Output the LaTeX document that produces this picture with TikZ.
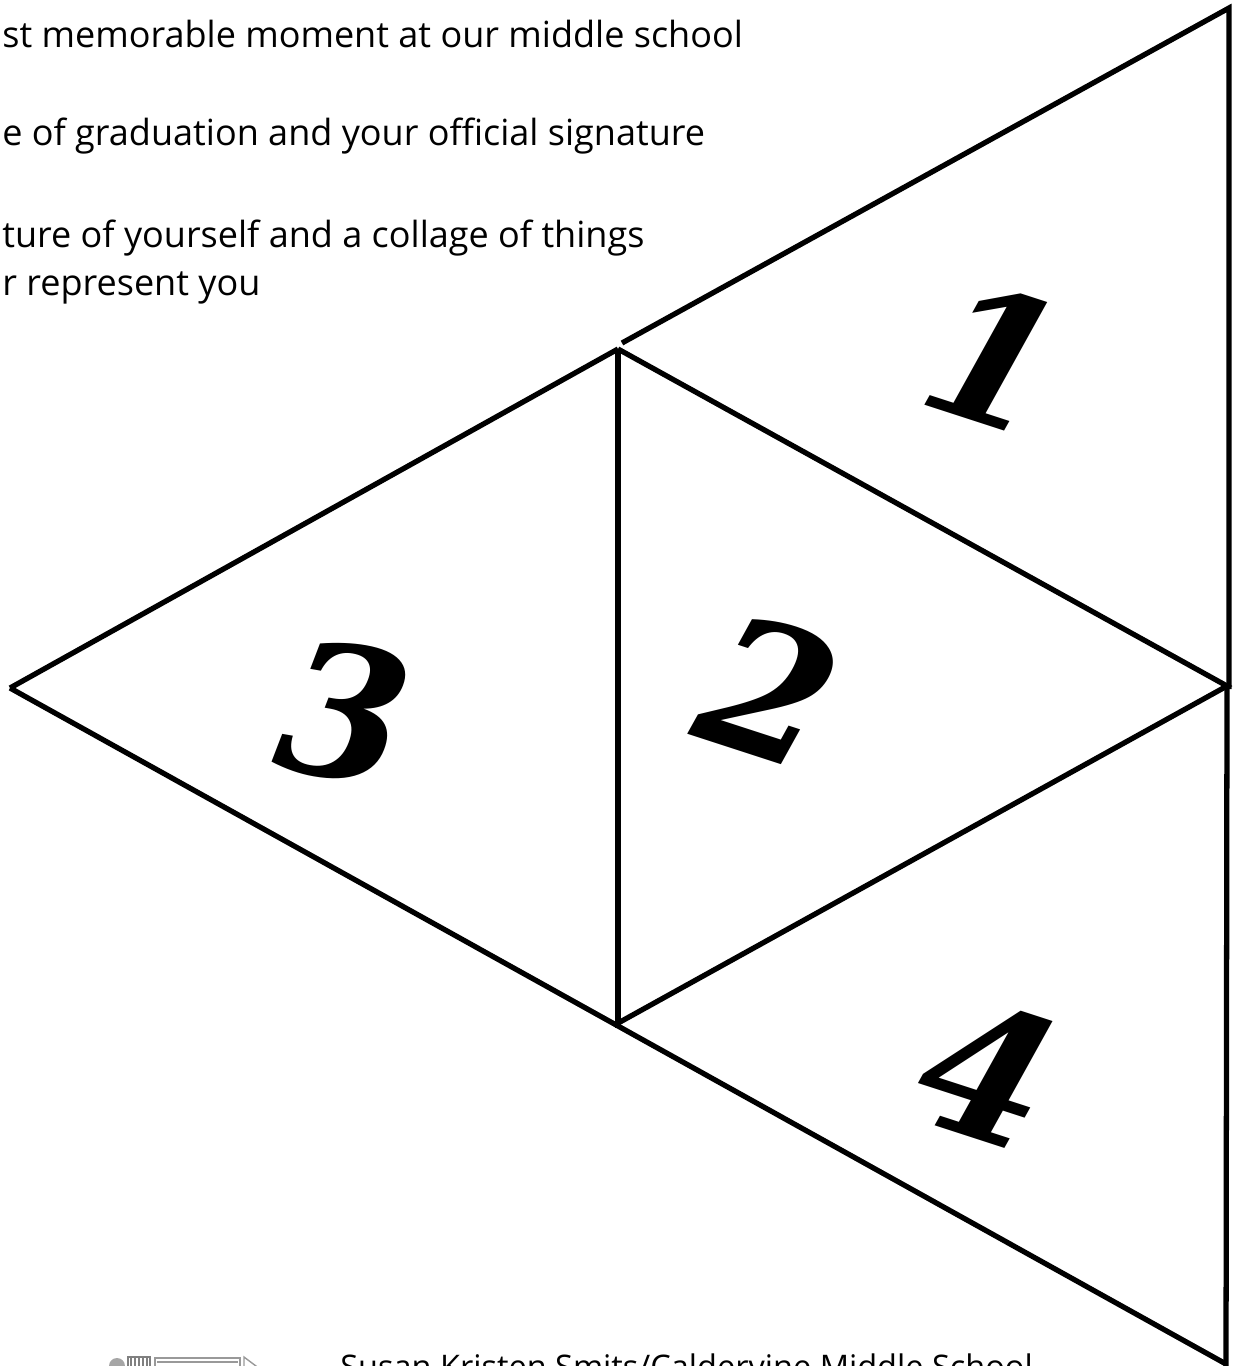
\documentclass[tikz,border=0pt]{standalone}
\usepackage{fontspec}
\newfontfamily\handfont{Open Sans}
\newfontfamily\numfont{DejaVu Serif}
\usetikzlibrary{positioning}

\begin{document}
\begin{tikzpicture}[x=0.02cm, y=-0.02cm,
    edge/.style={draw=black, line width=3pt},
    item/.style={anchor=base west, inner sep=0pt, font=\handfont\fontsize{20.5}{24}\selectfont},
    credit/.style={item, font=\handfont\fontsize{18.5}{22}\selectfont},
    facenum/.style={inner sep=0pt, font=\numfont\bfseries\itshape\fontsize{104}{104}\selectfont}]

    \useasboundingbox (0,0) rectangle (1234,1366);
    \clip (0,0) rectangle (1234,1366);

    % instructions, cut at the left edge
    \node[item] (item1) at (2,47) {st memorable moment at our middle school};
    \node[item] (item2) at (2,145) {e of graduation and your official signature};
    \node[item] (item3) at (2,247) {ture of yourself and a collage of things};
    \node[item] (item3b) at (2,295) {r represent you};

    % corners of the net
    \coordinate (top) at (1229,8);
    \coordinate (t1) at (622,343);
    \coordinate (apex) at (618,349);
    \coordinate (midr) at (1229,689);
    \coordinate (mid) at (1227,686);
    \coordinate (low) at (620,1022);
    \coordinate (left) at (10,688);
    \coordinate (bot) at (1226,1364);
    \coordinate (botr) at (1226,1370);

    \draw[edge] (t1) -- (top) -- (midr);
    \draw[edge] (mid) -- (botr);
    \draw[edge] (apex) -- (mid) -- (low);
    \draw[edge] (apex) -- (618,1028);
    \draw[edge] (left) -- (apex);
    \draw[edge] (left) -- (bot);

    \node[facenum, rotate=-18] (n1) at (995,357) {1};
    \node[facenum, rotate=-18] (n2) at (770,690) {2};
    \node[facenum, rotate=-10] (n3) at (345,712) {3};
    \node[facenum, rotate=-18] (n4) at (988,1072) {4};

    % credit line, cut at the bottom edge
    \fill[gray!70] (117,1366) circle (8);
    \draw[gray, line width=1pt] (128,1357) rectangle (150,1372);
    \foreach \i in {131,135,...,148} \draw[gray, line width=0.6pt] (\i,1357) -- (\i,1370);
    \draw[gray!80, line width=1.2pt] (155,1358) rectangle (240,1372);
    \draw[gray!80, line width=0.8pt] (157,1362) -- (238,1362);
    \draw[gray!80, line width=0.8pt] (244,1357) -- (256,1366) -- (244,1372) -- cycle;
    \node[credit] (byline) at (340,1378) {Susan Kristen Smits/Caldervine Middle School};
\end{tikzpicture}
\end{document}
